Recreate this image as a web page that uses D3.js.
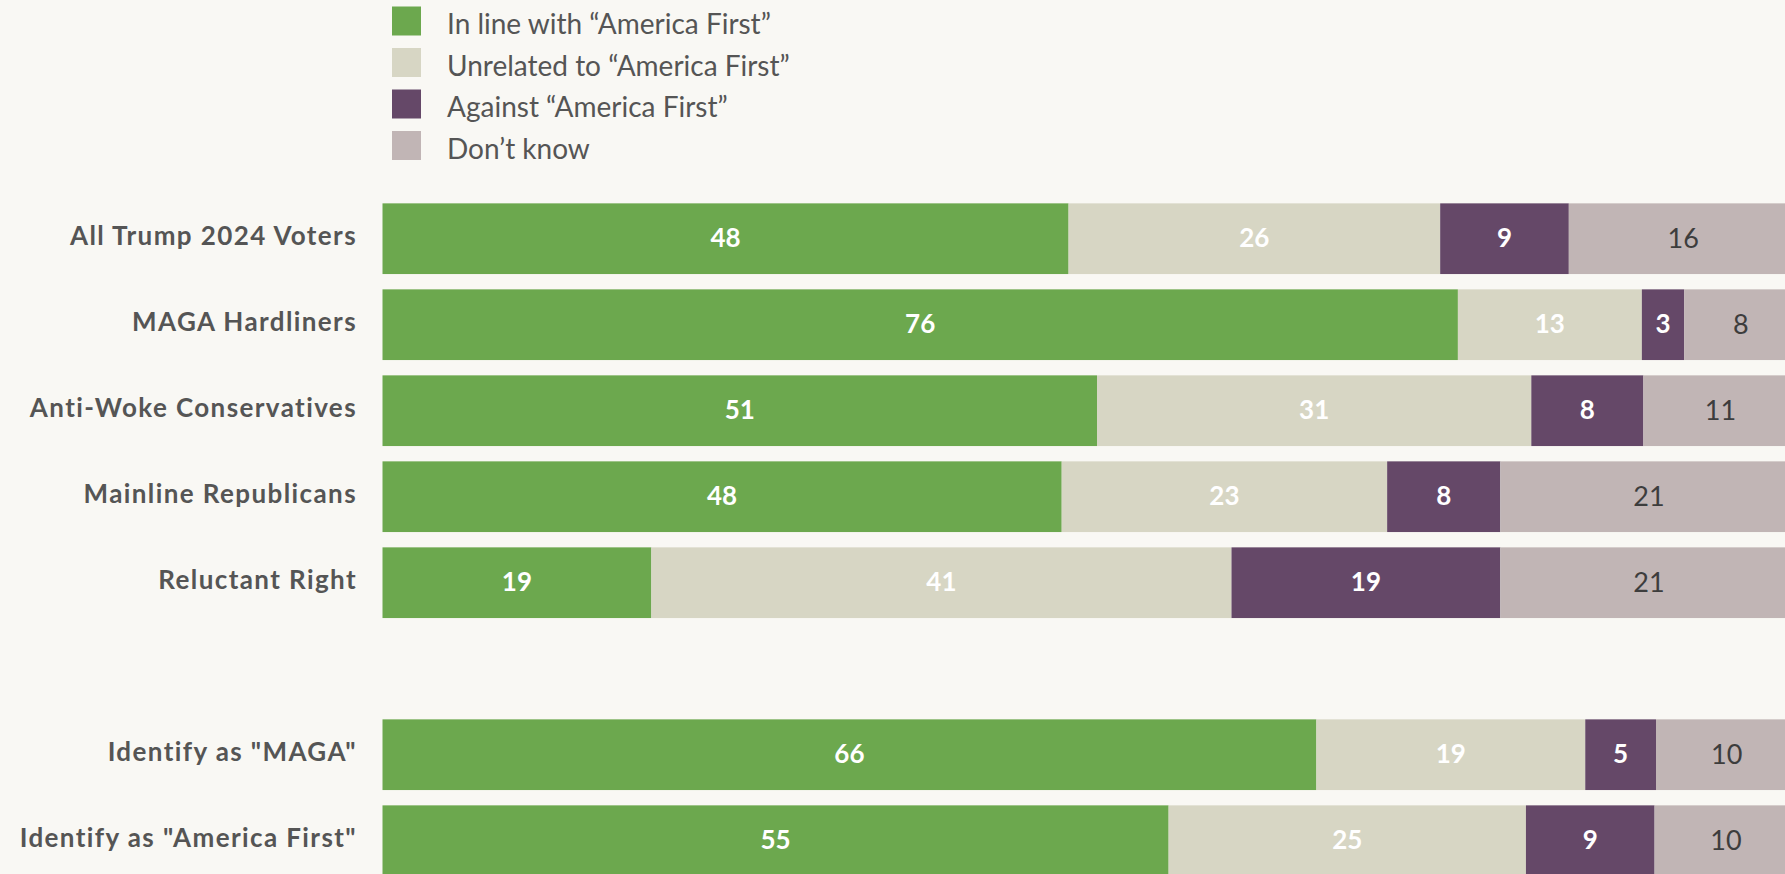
<!DOCTYPE html>
<html>
<head>
<meta charset="utf-8">
<script src="https://cdn.jsdelivr.net/npm/d3@7"></script>
<style>
  html, body { margin: 0; padding: 0; background: #f9f8f4; overflow: hidden; }
  svg { display: block; }
</style>
</head>
<body>
<svg id="chart" width="1785" height="874"></svg>
<script>
// ---- data ----
const categories = [
  "All Trump 2024 Voters",
  "MAGA Hardliners",
  "Anti-Woke Conservatives",
  "Mainline Republicans",
  "Reluctant Right",
  'Identify as "MAGA"',
  'Identify as "America First"'
];
const seriesNames = [
  "In line with \u201CAmerica First\u201D",
  "Unrelated to \u201CAmerica First\u201D",
  "Against \u201CAmerica First\u201D",
  "Don\u2019t know"
];
const inLine    = [48, 76, 51, 48, 19, 66, 55];
const unrelated = [26, 13, 31, 23, 41, 19, 25];
const against   = [9, 3, 8, 8, 19, 5, 9];
const dontKnow  = [16, 8, 11, 21, 21, 10, 10];
const colors = ["#6ca84e", "#d7d6c4", "#654868", "#c1b5b5"];
const labelColors = ["#ffffff", "#ffffff", "#ffffff", "#3d3d3d"];
const labelWeights = [700, 700, 700, 400];
const labelSizes = [26, 26, 26, 27];
const labelShift = [8, 8, 8, 9.5];

// ---- layout ----
const FONT = "Lato, 'Open Sans', sans-serif";
const svg = d3.select("#chart");
const gapKey = "__gap__";
const slots = categories.slice(0, 5).concat([gapKey], categories.slice(5));

const keys = ["k0", "k1", "k2", "k3"];
const table = categories.map((c, i) => ({
  cat: c, k0: inLine[i], k1: unrelated[i], k2: against[i], k3: dontKnow[i]
}));
const stacked = d3.stack().keys(keys).offset(d3.stackOffsetExpand)(table);

const x = d3.scaleLinear().domain([0, 1]).range([382.5, 1797.5]);
const y = d3.scaleBand().domain(slots).range([195.7, 883.7])
  .paddingInner(0.178).paddingOuter(0.089);

// bars
const layers = svg.append("g").selectAll("g").data(stacked).join("g")
  .attr("fill", (d, i) => colors[i]);
layers.selectAll("rect").data(d => d).join("rect")
  .attr("x", d => x(d[0]))
  .attr("width", d => x(d[1]) - x(d[0]))
  .attr("y", d => y(d.data.cat))
  .attr("height", y.bandwidth());

// value labels
stacked.forEach((layer, li) => {
  svg.append("g").selectAll("text").data(layer).join("text")
    .attr("x", d => (x(d[0]) + x(d[1])) / 2)
    .attr("y", d => y(d.data.cat) + y.bandwidth() / 2 + labelShift[li])
    .attr("text-anchor", "middle")
    .attr("font-family", FONT)
    .attr("font-size", labelSizes[li])
    .attr("font-weight", labelWeights[li])
    .attr("fill", labelColors[li])
    .text(d => d.data[keys[li]]);
});

// category labels
svg.append("g").selectAll("text").data(categories).join("text")
  .attr("x", 357)
  .attr("y", d => y(d) + y.bandwidth() / 2 + 6.5)
  .attr("text-anchor", "end")
  .attr("font-family", FONT)
  .attr("font-size", 26)
  .attr("font-weight", 700)
  .attr("letter-spacing", "1.4px")
  .attr("fill", "#555555")
  .text(d => d);

// legend
const lg = svg.append("g");
const ly = d3.scaleBand().domain(seriesNames).range([0, 166]);
seriesNames.forEach((name, i) => {
  lg.append("rect")
    .attr("x", 392).attr("y", 6.5 + ly(name))
    .attr("width", 29).attr("height", 29)
    .attr("fill", colors[i]);
  lg.append("text")
    .attr("x", 447).attr("y", 34 + ly(name))
    .attr("font-family", FONT)
    .attr("font-size", 28)
    .attr("fill", "#555555")
    .text(name);
});
</script>
</body>
</html>
